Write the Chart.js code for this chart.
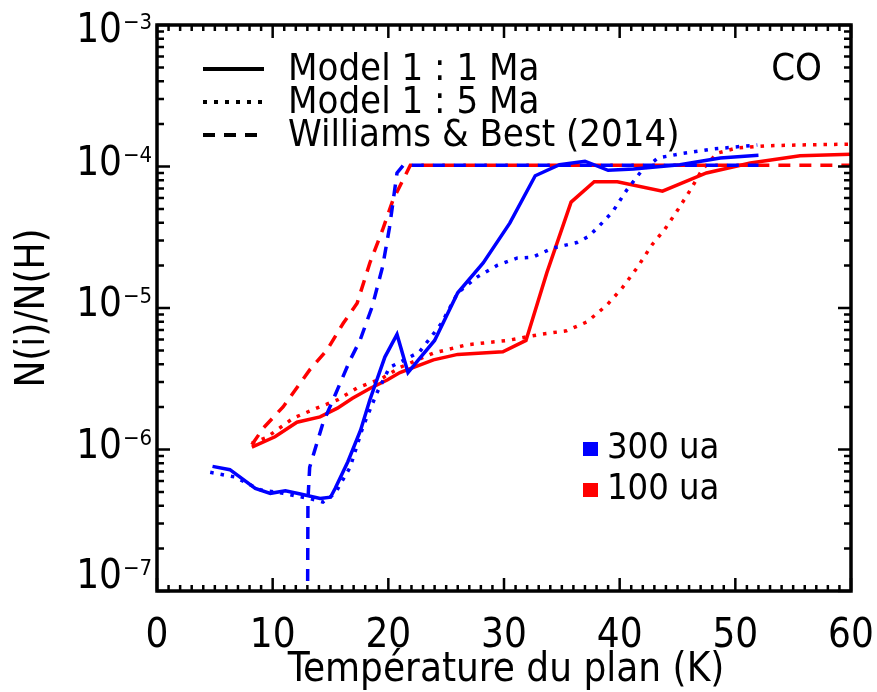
<!DOCTYPE html>
<html>
<head>
<meta charset="utf-8">
<script src="https://cdn.jsdelivr.net/npm/chart.js@4/dist/chart.umd.min.js"></script>
<style>
  html, body { margin: 0; padding: 0; background: #fff; }
  #wrap { width: 877px; height: 692px; }
</style>
</head>
<body>
<div id="wrap"><canvas id="co-chart"></canvas></div>
<script>
const FONT = "'DejaVu Sans Condensed', 'DejaVu Sans', sans-serif";

// tick labels
const xTickValues = [0, 10, 20, 30, 40, 50, 60];
const yDecades = [-7, -6, -5, -4, -3];

// 300 ua, model 1 : 1 Ma (blue solid)
const blue1T = [4.8, 6.3, 8.5, 9.8, 11.1, 12.4, 14.1, 15.0, 15.4, 16.5, 17.6, 18.4, 19.7, 20.75, 21.7, 22.6, 24.0, 26.0, 28.2, 30.5, 32.7, 34.8, 37.0, 39.0, 41.2, 45.2, 48.7, 52.0];
const blue1N = [7.6e-7, 7.2e-7, 5.3e-7, 4.9e-7, 5.1e-7, 4.85e-7, 4.5e-7, 4.6e-7, 5.3e-7, 8.2e-7, 1.37e-6, 2.24e-6, 4.5e-6, 6.5e-6, 3.5e-6, 4.3e-6, 5.9e-6, 1.28e-5, 2.08e-5, 3.98e-5, 8.6e-5, 1.03e-4, 1.09e-4, 9.4e-5, 9.6e-5, 1.03e-4, 1.15e-4, 1.2e-4];

// 300 ua, model 1 : 5 Ma (blue dotted)
const blue5T = [4.6, 6.7, 8.9, 10.9, 13.2, 14.35, 15.4, 16.7, 17.8, 19.0, 20.1, 21.4, 22.7, 24.6, 26.0, 27.7, 29.4, 31.1, 32.5, 34.2, 36.3, 37.3, 38.1, 39.4, 40.6, 41.8, 43.3, 45.5, 48.1, 51.9];
const blue5N = [6.9e-7, 6.4e-7, 5.2e-7, 4.9e-7, 4.5e-7, 4.25e-7, 4.9e-7, 7.5e-7, 1.44e-6, 2.5e-6, 3.8e-6, 4.3e-6, 4.9e-6, 7.8e-6, 1.28e-5, 1.66e-5, 2.0e-5, 2.25e-5, 2.29e-5, 2.65e-5, 2.9e-5, 3.2e-5, 3.7e-5, 4.8e-5, 6.8e-5, 9.1e-5, 1.15e-4, 1.24e-4, 1.33e-4, 1.42e-4];

// 300 ua, Williams & Best (blue dashed)
const blueWBT = [13.0, 13.05, 13.2, 14.35, 15.4, 16.7, 17.55, 18.6, 19.5, 20.1, 20.75, 21.3, 52.0];
const blueWBN = [3e-8, 4.4e-7, 7.5e-7, 1.54e-6, 2.43e-6, 4.3e-6, 5.9e-6, 1.02e-5, 1.95e-5, 3.7e-5, 9.0e-5, 1.02e-4, 1.02e-4];

// 100 ua, model 1 : 1 Ma (red solid)
const red1T = [8.2, 10.2, 12.1, 14.1, 15.6, 16.9, 18.4, 19.9, 21.0, 23.9, 26.0, 29.9, 31.9, 33.7, 35.8, 37.8, 39.8, 43.7, 47.5, 51.3, 55.6, 60.0];
const red1N = [1.04e-6, 1.23e-6, 1.56e-6, 1.7e-6, 1.96e-6, 2.3e-6, 2.7e-6, 3.1e-6, 3.5e-6, 4.3e-6, 4.7e-6, 4.9e-6, 5.9e-6, 1.77e-5, 5.6e-5, 7.8e-5, 7.8e-5, 6.7e-5, 9.0e-5, 1.06e-4, 1.19e-4, 1.22e-4];

// 100 ua, model 1 : 5 Ma (red dotted)
const red5T = [8.2, 9.5, 11.8, 13.8, 15.6, 17.3, 19.5, 21.0, 23.9, 26.8, 30.3, 33.1, 35.4, 37.2, 38.9, 40.2, 41.5, 42.8, 43.9, 45.0, 46.1, 47.1, 48.4, 50.1, 52.7, 55.6, 60.0];
const red5N = [1.11e-6, 1.22e-6, 1.67e-6, 1.96e-6, 2.24e-6, 2.72e-6, 3.2e-6, 3.8e-6, 4.8e-6, 5.5e-6, 5.9e-6, 6.5e-6, 6.9e-6, 8.0e-6, 1.05e-5, 1.38e-5, 1.92e-5, 2.8e-5, 3.6e-5, 4.9e-5, 6.8e-5, 9.4e-5, 1.24e-4, 1.35e-4, 1.4e-4, 1.42e-4, 1.44e-4];

// 100 ua, Williams & Best (red dashed)
const redWBT = [8.2, 9.2, 10.9, 13.2, 14.7, 16.1, 17.3, 18.4, 19.5, 20.4, 21.9, 60.0];
const redWBN = [1.08e-6, 1.42e-6, 2.0e-6, 3.65e-6, 5.05e-6, 7.8e-6, 1.08e-5, 2.08e-5, 3.56e-5, 5.8e-5, 1.02e-4, 1.02e-4];

const styleLegend = [
  { label: "Model 1 : 1 Ma", dash: [] },
  { label: "Model 1 : 5 Ma", dash: [4, 7] },
  { label: "Williams & Best (2014)", dash: [12, 9] },
];
const colorLegend = [
  { label: "300 ua", color: "#0000ff" },
  { label: "100 ua", color: "#ff0000" },
];

function toPoints(xs, ys) {
  return xs.map((x, i) => ({ x: x, y: ys[i] }));
}

function makeSet(label, xs, ys, color, dash) {
  return {
    label: label,
    data: toPoints(xs, ys),
    borderColor: color,
    backgroundColor: color,
    borderWidth: 3.5,
    borderDash: dash,
    pointRadius: 0,
    showLine: true,
    tension: 0,
    fill: false,
  };
}

const framePlugin = {
  id: "frame",
  afterDraw(chart) {
    const { ctx, chartArea: a, scales } = chart;
    const xs = scales.x;
    const ys = scales.y;
    ctx.save();
    ctx.strokeStyle = "#000";
    ctx.fillStyle = "#000";
    ctx.setLineDash([]);

    // ticks
    ctx.lineWidth = 2.5;
    ctx.beginPath();
    for (const e of yDecades) {
      for (let m = 1; m <= 9; m++) {
        const v = m * Math.pow(10, e);
        if (v > 1.0001e-3) break;
        const y = ys.getPixelForValue(v);
        const len = m === 1 ? 13 : 7;
        ctx.moveTo(a.left, y);
        ctx.lineTo(a.left + len, y);
        ctx.moveTo(a.right, y);
        ctx.lineTo(a.right - len, y);
      }
    }
    for (let t = 0; t <= 60; t++) {
      const x = xs.getPixelForValue(t);
      const len = t % 10 === 0 ? 13 : 6;
      ctx.moveTo(x, a.bottom);
      ctx.lineTo(x, a.bottom - len);
      ctx.moveTo(x, a.top);
      ctx.lineTo(x, a.top + len);
    }
    ctx.stroke();

    // frame
    ctx.lineWidth = 3.5;
    ctx.strokeRect(a.left, a.top, a.right - a.left, a.bottom - a.top);

    // y tick labels 10^n
    const yShift = { "-3": 7, "-7": -13 };
    for (const e of yDecades) {
      const y = ys.getPixelForValue(Math.pow(10, e)) + (yShift[e] || -2);
      ctx.font = "40px " + FONT;
      ctx.textAlign = "right";
      ctx.textBaseline = "middle";
      ctx.fillText("10", 122, y);
      ctx.font = "22px " + FONT;
      ctx.textAlign = "left";
      ctx.textBaseline = "alphabetic";
      ctx.fillText("\u2212" + Math.abs(e), 123, y - 3);
    }

    // x tick labels
    ctx.font = "40px " + FONT;
    ctx.textAlign = "center";
    ctx.textBaseline = "alphabetic";
    for (const t of xTickValues) {
      ctx.fillText(String(t), xs.getPixelForValue(t), 647);
    }

    // axis titles
    ctx.font = "40px " + FONT;
    ctx.fillText("Température du plan (K)", 506, 681);
    ctx.save();
    ctx.translate(44, 308);
    ctx.rotate(-Math.PI / 2);
    ctx.fillText("N(i)/N(H)", 0, 0);
    ctx.restore();

    // line style legend
    ctx.font = "38px " + FONT;
    ctx.textAlign = "left";
    styleLegend.forEach((item, i) => {
      const y = 69 + i * 33;
      ctx.lineWidth = 4;
      ctx.setLineDash(item.dash);
      ctx.beginPath();
      ctx.moveTo(203, y);
      ctx.lineTo(264, y);
      ctx.stroke();
      ctx.setLineDash([]);
      ctx.fillText(item.label, 288, y + 11);
    });

    // species label
    ctx.textAlign = "right";
    ctx.fillText("CO", 822, 80);

    // colour legend
    ctx.font = "36px " + FONT;
    ctx.textAlign = "left";
    colorLegend.forEach((item, i) => {
      const y = 449 + i * 41;
      ctx.fillStyle = item.color;
      ctx.fillRect(583, y - 7, 15, 14);
      ctx.fillStyle = "#000";
      ctx.fillText(item.label, 607, y + 9);
    });
    ctx.restore();
  },
};

new Chart(document.getElementById("co-chart"), {
  type: "scatter",
  data: {
    datasets: [
      makeSet("300 ua WB", blueWBT, blueWBN, "#0000ff", [12, 9]),
      makeSet("300 ua 5 Ma", blue5T, blue5N, "#0000ff", [3.5, 7]),
      makeSet("300 ua 1 Ma", blue1T, blue1N, "#0000ff", []),
      makeSet("100 ua WB", redWBT, redWBN, "#ff0000", [12, 9]),
      makeSet("100 ua 5 Ma", red5T, red5N, "#ff0000", [3.5, 7]),
      makeSet("100 ua 1 Ma", red1T, red1N, "#ff0000", []),
    ],
  },
  options: {
    responsive: true,
    maintainAspectRatio: false,
    animation: false,
    devicePixelRatio: 1,
    layout: { padding: { top: 25, right: 26, left: 0, bottom: 0 } },
    plugins: { legend: { display: false }, tooltip: { enabled: false } },
    scales: {
      x: {
        type: "linear",
        min: 0,
        max: 60,
        ticks: { display: false, stepSize: 10 },
        grid: { display: false, drawTicks: false },
        border: { display: false },
        afterFit(scale) { scale.height = 101; },
      },
      y: {
        type: "logarithmic",
        min: 1e-7,
        max: 1e-3,
        ticks: { display: false },
        grid: { display: false, drawTicks: false },
        border: { display: false },
        afterFit(scale) { scale.width = 157; },
      },
    },
  },
  plugins: [framePlugin],
});
</script>
</body>
</html>
